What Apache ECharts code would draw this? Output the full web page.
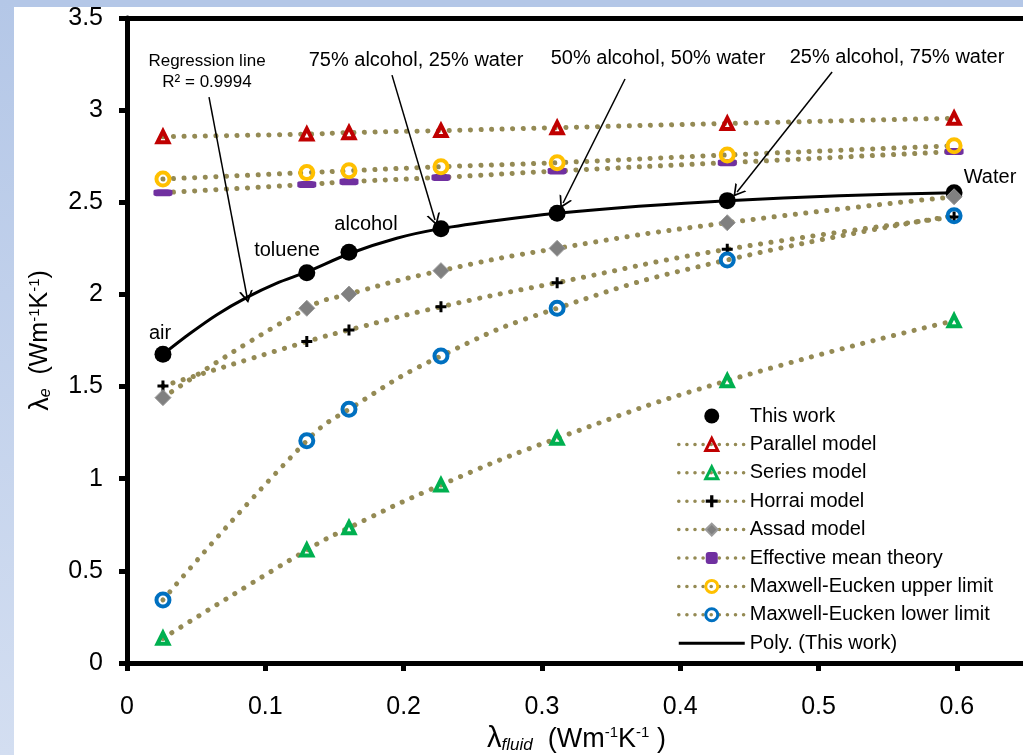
<!DOCTYPE html>
<html>
<head>
<meta charset="utf-8">
<script src="https://cdn.jsdelivr.net/npm/echarts/dist/echarts.min.js"></script>
<style>
html, body { margin: 0; padding: 0; background: #fff; }
#chart { width: 1023px; height: 755px; }
</style>
</head>
<body>
<div id="chart"></div>
<script>
// fluid thermal conductivity (x) for air, toluene, alcohol, 75/25, 50/50, 25/75, water
const fluidK = [0.026, 0.130, 0.1605, 0.227, 0.311, 0.434, 0.598]
const thisWork = [1.675, 2.118, 2.229, 2.357, 2.440, 2.509, 2.552]
const parallel = [2.856, 2.870, 2.878, 2.889, 2.905, 2.928, 2.956]
const seriesModel = [0.134, 0.613, 0.734, 0.966, 1.219, 1.532, 1.857]
const horrai = [1.503, 1.744, 1.807, 1.933, 2.064, 2.245, 2.420]
const assad = [1.440, 1.925, 2.002, 2.129, 2.250, 2.389, 2.530]
const effMean = [2.552, 2.597, 2.612, 2.635, 2.670, 2.715, 2.775]
const meUpper = [2.626, 2.661, 2.671, 2.693, 2.715, 2.757, 2.807]
const meLower = [0.342, 1.206, 1.377, 1.666, 1.925, 2.187, 2.427]

// regression curve
const polyX = [0.026, 0.045, 0.065, 0.087, 0.108, 0.130, 0.161, 0.195, 0.227, 0.270, 0.311, 0.370, 0.434, 0.515, 0.598]
const polyY = [1.675, 1.785, 1.890, 1.985, 2.060, 2.122, 2.222, 2.305, 2.357, 2.404, 2.440, 2.478, 2.509, 2.535, 2.552]

const legendNames = ['This work', 'Parallel model', 'Series model', 'Horrai model', 'Assad model',
  'Effective mean theory', 'Maxwell-Eucken upper limit', 'Maxwell-Eucken lower limit', 'Poly. (This work)']

// annotation arrows [from, to] in data units
const arrows = [
  [[0.0593, 3.071], [0.0868, 1.986]],
  [[0.1916, 3.190], [0.2227, 2.404]],
  [[0.3601, 3.169], [0.3153, 2.496]],
  [[0.5098, 3.207], [0.4411, 2.556]]
]

const FONT = 'Arial, "Liberation Sans", sans-serif'
const OLIVE = '#948a54'
const dotted = { color: OLIVE, width: 5, type: [0.1, 10.5], cap: 'round' }
const CLEAR = 'rgba(255,255,255,0)'
const ARROW = 'path://M0,16L10,0L20,16L17.2,16L10,4.5L2.8,16Z'
const PLUS = 'path://M4,0H7V4H11V7H7V11H4V7H0V4H4Z'

const pts = (xs, ys) => xs.map((x, i) => [x, ys[i]])

function model(name, ys, symbol, size, itemStyle) {
  return {
    name, type: 'line', data: pts(fluidK, ys), smooth: true,
    symbol, symbolSize: size, showSymbol: true,
    lineStyle: dotted, itemStyle, emphasis: { disabled: true }
  }
}

function txt(text, x, y, size) {
  return {
    type: 'text', x, y, silent: true,
    style: { text, fontSize: size, fontFamily: FONT, fill: '#000', align: 'center', verticalAlign: 'middle', lineHeight: 21 }
  }
}

const legendDots = { color: OLIVE, width: 3.5, type: [0.1, 8], cap: 'round' }
const legendData = legendNames.map(name => {
  if (name === 'This work') return { name }
  if (name === 'Poly. (This work)') return { name, itemStyle: { color: CLEAR, opacity: 0, borderWidth: 0 }, lineStyle: { color: '#000', width: 3, type: 'solid' } }
  if (/Parallel|Series|Maxwell/.test(name)) return { name, itemStyle: { borderWidth: 3 }, lineStyle: legendDots }
  return { name, lineStyle: legendDots }
})

const chart = echarts.init(document.getElementById('chart'))
chart.setOption({
  animation: false,
  backgroundColor: '#fff',
  grid: { left: 127, top: 18, width: 899, height: 645, outerBoundsMode: 'none', containLabel: false },
  legend: {
    orient: 'vertical', left: 672, top: 401,
    itemWidth: 66, itemHeight: 15, itemGap: 8.4,
    selectedMode: false,
    textStyle: { fontSize: 20, fontFamily: FONT, color: '#000' },
    data: legendData
  },
  xAxis: [{
    type: 'value', min: 0, max: 0.65, interval: 0.1,
    name: '{l|λ}{sub|fluid}  (Wm{sup|-1}K{sup|-1} )',
    nameLocation: 'middle', nameGap: 57,
    nameTextStyle: {
      fontFamily: FONT, color: '#000', fontSize: 27,
      rich: {
        l: { fontSize: 29, fontFamily: FONT, verticalAlign: 'middle' },
        sub: { fontSize: 17, fontStyle: 'italic', fontFamily: FONT, verticalAlign: 'bottom' },
        sup: { fontSize: 15, fontFamily: FONT, verticalAlign: 'top' }
      }
    },
    axisLine: { lineStyle: { color: '#000', width: 5 } },
    axisTick: { length: 8, lineStyle: { width: 5, color: '#000' } },
    axisLabel: { fontSize: 25, fontFamily: FONT, color: '#000', margin: 32, showMaxLabel: false },
    splitLine: { show: false }
  }, {
    type: 'value', position: 'top', min: 0, max: 0.65,
    axisLine: { show: true, lineStyle: { color: '#000', width: 5 } },
    axisTick: { show: false }, axisLabel: { show: false }, splitLine: { show: false }
  }],
  yAxis: {
    type: 'value', min: 0, max: 3.5, interval: 0.5,
    name: '{l|λ}{sub|e}  (Wm{sup|-1}K{sup|-1})',
    nameLocation: 'middle', nameGap: 73, nameRotate: 90,
    nameTextStyle: {
      fontFamily: FONT, color: '#000', fontSize: 25,
      rich: {
        l: { fontSize: 27, fontFamily: FONT, verticalAlign: 'middle' },
        sub: { fontSize: 16, fontStyle: 'italic', fontFamily: FONT, verticalAlign: 'bottom' },
        sup: { fontSize: 15, fontFamily: FONT, verticalAlign: 'top' }
      }
    },
    axisLine: { show: true, lineStyle: { color: '#000', width: 5 } },
    axisTick: { show: true, length: 8, lineStyle: { width: 5, color: '#000' } },
    axisLabel: { fontSize: 25, fontFamily: FONT, color: '#000', margin: 24 },
    splitLine: { show: false }
  },
  graphic: [
    { type: 'rect', silent: true, shape: { x: 0, y: 0, width: 1023, height: 7 }, style: { fill: '#b4c7e7' } },
    { type: 'rect', silent: true, shape: { x: 0, y: 0, width: 14, height: 755 },
      style: { fill: new echarts.graphic.LinearGradient(0, 0, 0, 1, [{ offset: 0, color: '#b4c7e7' }, { offset: 1, color: '#d3def1' }]) } },
    txt('Regression line\nR² = 0.9994', 207, 72, 17),
    txt('75% alcohol, 25% water', 416, 60, 20),
    txt('50% alcohol, 50% water', 658, 58, 20),
    txt('25% alcohol, 75% water', 897, 57, 20),
    txt('air', 160, 333, 20),
    txt('toluene', 287, 250, 20),
    txt('alcohol', 366, 224, 20),
    txt('Water', 990, 177, 20)
  ],
  series: [
    { name: 'This work', type: 'scatter', data: pts(fluidK, thisWork), symbol: 'circle', symbolSize: 17,
      itemStyle: { color: '#000', opacity: 1 }, emphasis: { disabled: true } },
    {
      name: 'Poly. (This work)', type: 'line', data: pts(polyX, polyY), smooth: 0.3, symbol: 'none',
      lineStyle: { color: '#000', width: 3 }, itemStyle: { color: '#000' },
      markLine: {
        silent: true, animation: false, symbol: ['none', ARROW], symbolSize: [14, 12],
        lineStyle: { color: '#000', width: 1.5, type: 'solid' }, label: { show: false },
        data: arrows.map(a => [{ coord: a[0] }, { coord: a[1] }])
      }
    },
    model('Parallel model', parallel, 'triangle', 11, { color: CLEAR, borderColor: '#c00000', borderWidth: 4 }),
    model('Series model', seriesModel, 'triangle', 11, { color: CLEAR, borderColor: '#00b050', borderWidth: 4 }),
    model('Horrai model', horrai, PLUS, 11, { color: '#000' }),
    model('Assad model', assad, 'diamond', 16, { color: '#808080', borderColor: '#9a9a9a', borderWidth: 1 }),
    model('Effective mean theory', effMean, 'roundRect', [19, 7], { color: '#7030a0' }),
    model('Maxwell-Eucken upper limit', meUpper, 'circle', 13, { color: CLEAR, borderColor: '#ffc000', borderWidth: 4 }),
    model('Maxwell-Eucken lower limit', meLower, 'circle', 13, { color: CLEAR, borderColor: '#0070c0', borderWidth: 4 })
  ]
})
</script>
</body>
</html>
